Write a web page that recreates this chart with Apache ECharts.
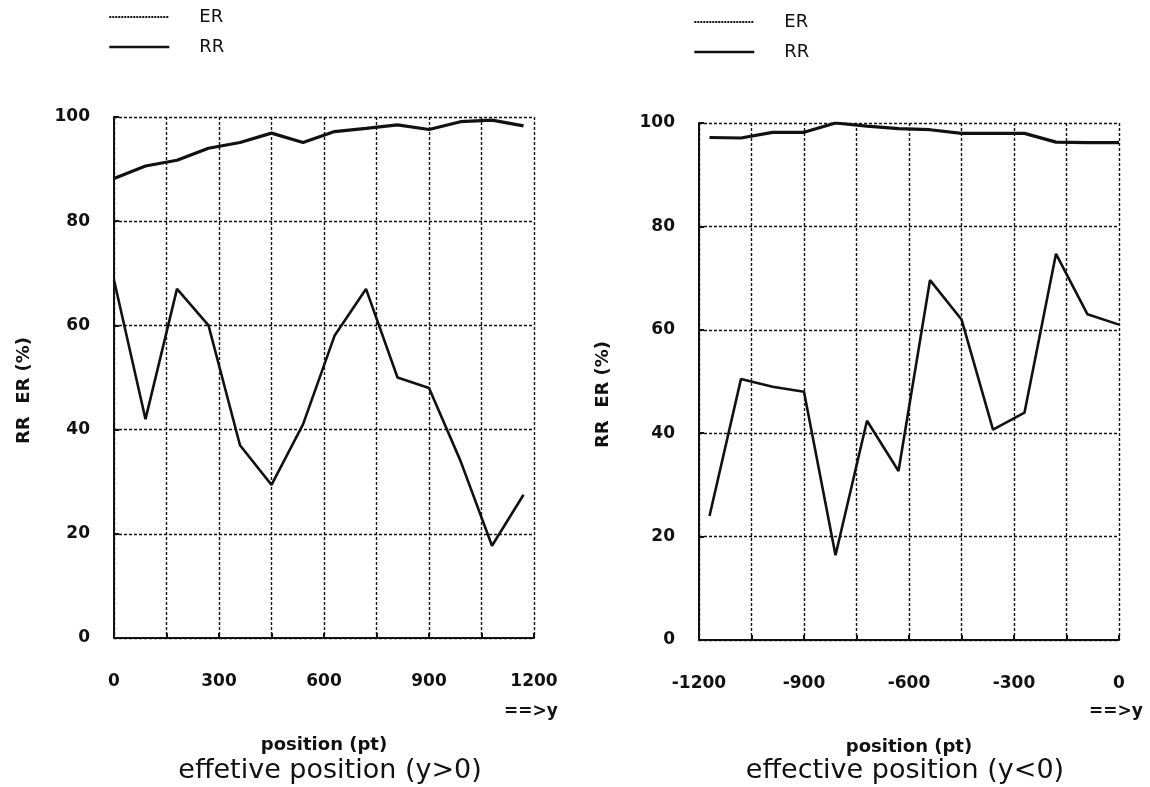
<!DOCTYPE html>
<html>
<head>
<meta charset="utf-8">
<script src="https://cdn.jsdelivr.net/npm/echarts@6/dist/echarts.min.js"></script>
<style>
  html, body { margin: 0; padding: 0; background: #fff; }
  #chart { width: 1150px; height: 787px; }
</style>
</head>
<body>
<div id="chart"></div>
<script>
// left panel: y > 0
const posPlus = [0, 90, 180, 270, 360, 450, 540, 630, 720, 810, 900, 990, 1080, 1170];
const erPlus = [68.7, 42, 67, 60, 37, 29.4, 41, 58, 67, 50, 48, 34, 17.7, 27.5];
const rrPlus = [88.2, 90.6, 91.7, 94.0, 95.1, 96.9, 95.1, 97.2, 97.8, 98.5, 97.6, 99.1, 99.4, 98.3];

// right panel: y < 0
const posMinus = [-1170, -1080, -990, -900, -810, -720, -630, -540, -450, -360, -270, -180, -90, 0];
const erMinus = [24, 50.5, 49, 48, 16.4, 42.4, 32.7, 69.6, 62, 40.7, 44, 74.7, 63, 61];
const rrMinus = [97.2, 97.1, 98.2, 98.2, 100, 99.4, 98.9, 98.7, 98.0, 98.0, 98.0, 96.3, 96.2, 96.2];

const yTicks = [0, 20, 40, 60, 80, 100];
const xRangePlus = [0, 1200];
const xRangeMinus = [-1200, 0];

const FONT = "DejaVu Sans";
const INK = "#111";

const chart = echarts.init(document.getElementById("chart"));

const pair = (xs, ys) => xs.map((x, i) => [x, ys[i]]);

const gridLine = { show: true, lineStyle: { color: INK, type: [3, 2], width: 1.4 } };

function xAxisFor(gridIndex, range) {
  return {
    type: "value",
    gridIndex,
    min: range[0],
    max: range[1],
    interval: 150,
    name: "position (pt)",
    nameLocation: "middle",
    nameGap: 98,
    nameTextStyle: { fontFamily: FONT, fontSize: 18, fontWeight: "bold", color: INK },
    axisLine: { show: true, onZero: false, lineStyle: { color: INK, width: 2 } },
    axisTick: { show: true, inside: true, length: 5, lineStyle: { color: INK, width: 2 } },
    axisLabel: {
      margin: 35,
      fontFamily: FONT,
      fontSize: 17,
      fontWeight: "bold",
      color: INK,
      formatter: (v) => (v % 300 === 0 ? String(v) : ""),
    },
    splitLine: gridLine,
  };
}

function yAxisFor(gridIndex, nameGap) {
  return {
    type: "value",
    gridIndex,
    min: yTicks[0],
    max: yTicks[yTicks.length - 1],
    interval: 20,
    name: "RR  ER (%)",
    nameLocation: "middle",
    nameGap,
    nameTextStyle: { fontFamily: FONT, fontSize: 18, fontWeight: "bold", color: INK, padding: [0, 26, 0, 0] },
    axisLine: { show: true, onZero: false, lineStyle: { color: INK, width: 2 } },
    axisTick: { show: true, inside: true, length: 5, lineStyle: { color: INK, width: 2 } },
    axisLabel: { margin: 24, fontFamily: FONT, fontSize: 17, fontWeight: "bold", color: INK },
    splitLine: gridLine,
  };
}

function lineSeries(name, idx, data, width) {
  return {
    name,
    type: "line",
    xAxisIndex: idx,
    yAxisIndex: idx,
    data,
    symbol: "none",
    smooth: false,
    animation: false,
    lineStyle: { color: INK, width },
    itemStyle: { color: INK },
  };
}

function legendAt(left, top) {
  return {
    left,
    top,
    padding: 0,
    orient: "vertical",
    itemWidth: 60,
    itemHeight: 14,
    itemGap: 12,
    textStyle: { fontFamily: FONT, fontSize: 18, color: INK, lineHeight: 18, padding: [0, 0, 0, 25] },
    data: [
      { name: "ER", itemStyle: { opacity: 0 }, lineStyle: { type: [2, 1], width: 1.8, color: INK } },
      { name: "RR", itemStyle: { opacity: 0 }, lineStyle: { type: "solid", width: 2.6, color: INK } },
    ],
  };
}

function label(text, x, y, size, weight) {
  return {
    type: "text",
    x,
    y,
    style: {
      text,
      fill: INK,
      font: `${weight} ${size}px "${FONT}"`,
      align: "center",
      verticalAlign: "middle",
      textAlign: "center",
      textVerticalAlign: "middle",
    },
  };
}

chart.setOption({
  backgroundColor: "#fff",
  animation: false,
  grid: [
    { left: 114, top: 117, width: 420, height: 521 },
    { left: 699, top: 123, width: 420, height: 517 },
  ],
  xAxis: [xAxisFor(0, xRangePlus), xAxisFor(1, xRangeMinus)],
  yAxis: [yAxisFor(0, 81), yAxisFor(1, 87)],
  legend: [legendAt(108, 8), legendAt(693, 13)],
  series: [
    lineSeries("ER", 0, pair(posPlus, erPlus), 2.6),
    lineSeries("RR", 0, pair(posPlus, rrPlus), 3.2),
    lineSeries("ER", 1, pair(posMinus, erMinus), 2.6),
    lineSeries("RR", 1, pair(posMinus, rrMinus), 3.2),
  ],
  graphic: [
    label("==>y", 531, 712, 17, "bold"),
    label("==>y", 1116, 712, 17, "bold"),
    label("effetive position (y>0)", 330, 771, 27, "normal"),
    label("effective position (y<0)", 905, 771, 27, "normal"),
  ],
});

window.addEventListener("resize", () => chart.resize());
</script>
</body>
</html>
